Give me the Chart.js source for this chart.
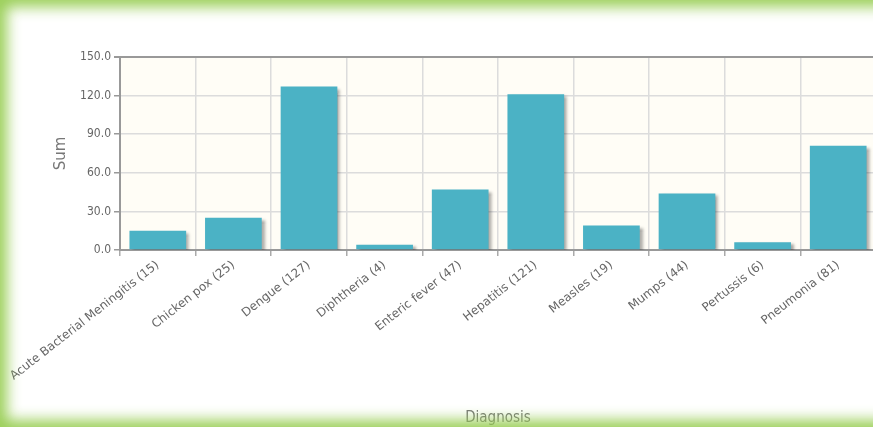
<!DOCTYPE html>
<html>
<head>
<meta charset="utf-8">
<script src="https://cdn.jsdelivr.net/npm/chart.js@4.4.1/dist/chart.umd.min.js"></script>
<style>
    html, body { margin: 0; padding: 0; background: #fff; overflow: hidden; }
    #frame { position: relative; width: 873px; height: 427px; overflow: hidden; background: #fff; }
    #wrap { position: absolute; left: 0; top: 0; width: 900px; height: 427px; }
    #glow { position: absolute; left: 0; top: 0; width: 1000px; height: 427px; pointer-events: none;
            box-shadow: inset 0 0 14px 7px rgba(150, 204, 80, 0.95); }
</style>
</head>
<body>
<div id="frame">
    <div id="wrap"><canvas id="diagnosisChart"></canvas></div>
    <div id="glow"></div>
</div>
<script>
// Données du graphique
const categories = ['Acute Bacterial Meningitis (15)', 'Chicken pox (25)', 'Dengue (127)', 'Diphtheria (4)',
    'Enteric fever (47)', 'Hepatitis (121)', 'Measles (19)', 'Mumps (44)', 'Pertussis (6)', 'Pneumonia (81)'];
const sums = [15, 25, 127, 4, 47, 121, 19, 44, 6, 81];
const yTicks = [0, 30, 60, 90, 120, 150];

const narrowFont = "'DejaVu Sans Condensed', 'DejaVu Sans', sans-serif";

// Fond crème de la zone de tracé
const plotBackground = {
    id: 'plotBackground',
    beforeDraw(chart) {
        const { ctx, chartArea } = chart;
        ctx.save();
        ctx.fillStyle = '#fffdf6';
        ctx.fillRect(chartArea.left, chartArea.top, chartArea.right - chartArea.left, chartArea.bottom - chartArea.top);
        ctx.restore();
    }
};

// Ombre portée des barres (style jqPlot)
const barShadow = {
    id: 'barShadow',
    beforeDatasetsDraw(chart) {
        const ctx = chart.ctx;
        ctx.save();
        ctx.shadowColor = 'rgba(0, 0, 0, 0.35)';
        ctx.shadowOffsetX = 3;
        ctx.shadowOffsetY = 2;
        ctx.shadowBlur = 3;
    },
    afterDatasetsDraw(chart) {
        chart.ctx.restore();
    }
};

const ctx = document.getElementById('diagnosisChart').getContext('2d');
new Chart(ctx, {
    type: 'bar',
    data: {
        labels: categories,
        datasets: [{
            label: 'Sum',
            data: sums,
            backgroundColor: '#4bb2c5',
            borderWidth: 0,
            categoryPercentage: 1,
            barPercentage: 0.75
        }]
    },
    options: {
        responsive: true,
        maintainAspectRatio: false,
        animation: false,
        layout: { padding: { top: 57, right: 24, left: 0, bottom: 0 } },
        plugins: {
            legend: { display: false },
            tooltip: { enabled: false }
        },
        scales: {
            x: {
                type: 'category',
                grid: {
                    offset: true,
                    color: '#dcdcdc',
                    lineWidth: 1.5,
                    tickColor: '#aaa',
                    tickLength: 6
                },
                border: { color: '#999', width: 2 },
                ticks: {
                    autoSkip: false,
                    minRotation: 38,
                    maxRotation: 38,
                    padding: 2,
                    color: '#666',
                    font: { family: 'DejaVu Sans', size: 12 }
                },
                title: {
                    display: true,
                    text: 'Diagnosis',
                    color: '#777',
                    padding: 0,
                    font: { family: narrowFont, size: 15 }
                },
                afterFit(scale) { scale.height = 177; }
            },
            y: {
                min: 0,
                max: 150,
                afterBuildTicks(scale) { scale.ticks = yTicks.map(v => ({ value: v })); },
                grid: {
                    color: c => c.tick && c.tick.value === 150 ? '#999' : '#dcdcdc',
                    lineWidth: c => c.tick && c.tick.value === 150 ? 2 : 1.5,
                    tickColor: '#999',
                    tickLength: 6
                },
                border: { color: '#999', width: 2 },
                ticks: {
                    padding: 3,
                    color: '#666',
                    font: { family: narrowFont, size: 12 },
                    callback: v => Number(v).toFixed(1)
                },
                title: {
                    display: true,
                    text: 'Sum',
                    color: '#777',
                    padding: { top: 52, bottom: 0 },
                    font: { family: 'DejaVu Sans', size: 15 }
                },
                afterFit(scale) { scale.width = 120; }
            }
        }
    },
    plugins: [plotBackground, barShadow]
});
</script>
</body>
</html>
